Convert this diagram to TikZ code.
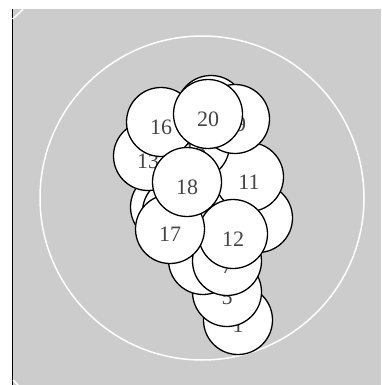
\documentclass[tikz,border=0pt]{standalone}
\usepackage{fontspec}
\setmainfont{Liberation Serif}
\definecolor{bggray}{HTML}{CCCCCC}
\definecolor{numgray}{HTML}{444444}
\tikzset{
  ball/.style={circle, draw=black, line width=1.3pt, fill=white,
    minimum size=69pt, inner sep=0pt, text=numgray,
    text height=25pt, text depth=0pt,
    font=\fontsize{22}{22}\selectfont},
  wall/.style={white, line width=1.5pt}
}
\begin{document}
\begin{tikzpicture}[x=1pt, y=-1pt]
    \useasboundingbox (0,0) rectangle (381,385);

    % Background
    \fill[bggray] (12,9) rectangle (381,385);
    \draw[black, line width=1pt] (12,9) -- (12,385);
    \draw[wall] (12.5,19) -- (23,9.5);
    \draw[wall] (13,380) -- (18,385);

    % Container
    \coordinate (centre) at (202,198);
    \draw[wall] (centre) circle (162);

    % Balls, drawn in order
    \foreach \n/\x/\y in {1/238/320, 2/215/200, 3/220/195, 4/210/205,
        5/227/292, 6/203/260, 7/227/261, 8/258/218, 9/165/207,
        10/177/212, 11/249/177, 12/233/234, 13/148/156, 14/211/110,
        15/195/145, 16/161/122, 17/170/229, 18/187/182, 19/235/119,
        20/208/114}
        \node[ball] (b\n) at (\x,\y) {\n};

\end{tikzpicture}
\end{document}
